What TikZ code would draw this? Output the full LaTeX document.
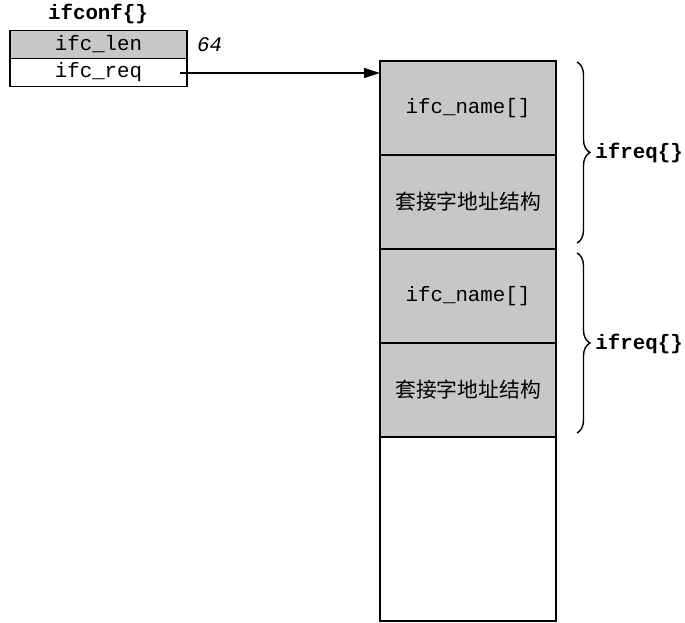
\documentclass[tikz,border=0pt]{standalone}
\usepackage{fontspec}
\setmonofont{Liberation Mono}
\newfontfamily\cjk{Noto Sans CJK SC}
\usetikzlibrary{positioning, arrows.meta, decorations.pathreplacing}
\tikzset{
    cell/.style={draw, line width=0.8pt, rectangle, outer sep=0pt, minimum width=88pt, minimum height=47pt, align=center, font=\fontsize{10.4}{12}\ttfamily, fill=black!22},
    field/.style={draw, line width=0.7pt, rectangle, outer sep=0pt, minimum width=88.5pt, minimum height=14pt, inner sep=0pt, font=\fontsize{10.4}{12}\ttfamily},
    tag/.style={font=\fontsize{10.4}{12}\ttfamily\bfseries, inner sep=1pt},
    arrow/.style={-{Triangle[length=8pt, width=5pt]}, line width=0.6pt},
    curly/.style={decorate, decoration={brace, amplitude=6.5pt}, line width=0.7pt}
}
\begin{document}
\begin{tikzpicture}[x=0.5pt, y=-0.5pt]
\useasboundingbox (0,0) rectangle (685,622);
% ifconf{} structure
\node[tag] (conf) at (98,14) {ifconf\{\}};
\node[field, fill=black!22] (len) at (98.5,44.5) {ifc\_len};
\node[field, below=0pt of len] (req) {ifc\_req};
\node[font=\fontsize{10.4}{12}\ttfamily\itshape, anchor=west] (val) at (190,45) {64};
% buffer
\node[cell] (name1) at (468,108) {ifc\_name[]};
\node[cell, below=0pt of name1] (addr1) {\cjk 套接字地址结构};
\node[cell, below=0pt of addr1] (name2) {ifc\_name[]};
\node[cell, below=0pt of name2] (addr2) {\cjk 套接字地址结构};
\node[cell, below=0pt of addr2, fill=white, minimum height=92pt] (rest) {};
\coordinate (tail) at (180,73);
\draw[arrow] (tail) -- (tail -| name1.west);
% ifreq{} braces
\draw[curly] (577,62) -- (577,243);
\node[tag, anchor=west] (req1) at (593,153) {ifreq\{\}};
\draw[curly] (577,253) -- (577,433);
\node[tag, anchor=west] (req2) at (593,344) {ifreq\{\}};
\end{tikzpicture}
\end{document}
